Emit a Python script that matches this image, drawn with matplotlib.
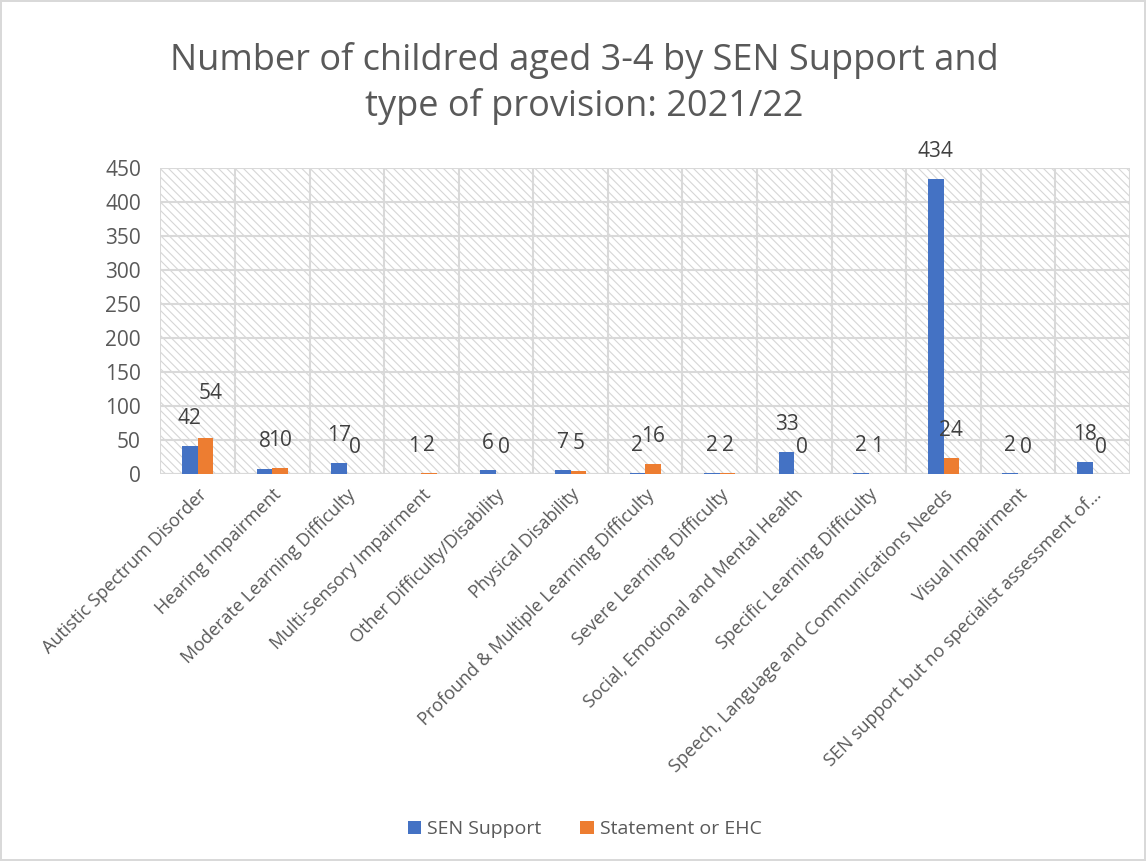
import numpy as np
import matplotlib.pyplot as plt
from matplotlib.patches import Rectangle

plt.rcParams['font.family'] = ['Open Sans', 'DejaVu Sans']
plt.rcParams['hatch.linewidth'] = 0.8
plt.rcParams['hatch.color'] = '#d6d6d6'

categories = ['Autistic Spectrum Disorder', 'Hearing Impairment',
              'Moderate Learning Difficulty', 'Multi-Sensory Impairment',
              'Other Difficulty/Disability', 'Physical Disability',
              'Profound & Multiple Learning Difficulty',
              'Severe Learning Difficulty', 'Social, Emotional and Mental Health',
              'Specific Learning Difficulty',
              'Speech, Language and Communications Needs',
              'Visual Impairment',
              'SEN support but no specialist assessment of\u2026']
sen_support = [42, 8, 17, 1, 6, 7, 2, 2, 33, 2, 434, 2, 18]
statement_ehc = [54, 10, 0, 2, 0, 5, 16, 2, 0, 1, 24, 0, 0]

blue = '#4472c4'
orange = '#ed7d31'
grey = '#595959'

fig = plt.figure(figsize=(11.46, 8.61), dpi=100)
fig.patch.set_edgecolor('#d9d9d9')
fig.patch.set_linewidth(1.5)
ax = fig.add_axes([0.14, 0.449, 0.846, 0.356])

x = np.arange(len(categories))
w = 0.21
ax.add_patch(Rectangle((0, 0), 1, 1, transform=ax.transAxes, facecolor='white',
                       edgecolor='#d6d6d6', hatch='\\\\\\\\', linewidth=0, zorder=0))

b1 = ax.bar(x - w / 2, sen_support, w, color=blue, label='SEN Support', zorder=3)
b2 = ax.bar(x + w / 2, statement_ehc, w, color=orange, label='Statement or EHC', zorder=3)
ax.bar_label(b1, padding=12, fontsize=15, color='#404040')
ax.bar_label(b2, padding=12, fontsize=15, color='#404040')
# Excel nudges the overlapping first-category label upward
ax.texts[len(categories)].set_visible(False)
ax.annotate(str(statement_ehc[0]), (x[0] + w / 2, statement_ehc[0]),
            xytext=(4, 24), textcoords='offset points', ha='center', va='bottom',
            fontsize=15, color='#404040')

ax.set_xlim(-0.5, len(categories) - 0.5)
ax.set_ylim(0, 450)
ax.set_yticks(np.arange(0, 451, 50))
ax.set_xticks(x)
ax.set_xticklabels(categories, rotation=45, ha='right', rotation_mode='anchor',
                   fontsize=13, color=grey)
ax.tick_params(axis='y', labelsize=15, labelcolor=grey, length=0, pad=14)
ax.tick_params(axis='x', length=0, pad=8)

ax.grid(axis='y', color='#d9d9d9', linewidth=1.5, zorder=1)
for b in np.arange(-0.5, len(categories), 1):
    ax.axvline(b, color='#d9d9d9', linewidth=1.5, zorder=1)
for s in ax.spines.values():
    s.set_visible(False)
ax.axhline(0, color='#d9d9d9', linewidth=1.5, zorder=2)

fig.text(0.51, 0.903, 'Number of childred aged 3-4 by SEN Support and\ntype of provision: 2021/22',
         ha='center', va='center', fontsize=26, color=grey, linespacing=1.35)

fig.legend(handles=[b1, b2], loc='center', bbox_to_anchor=(0.51, 0.037), ncol=2,
           frameon=False, fontsize=14, labelcolor=grey, handlelength=0.7,
           handleheight=0.7, columnspacing=2.0, handletextpad=0.3)

fig.savefig('out.png', dpi=100)
